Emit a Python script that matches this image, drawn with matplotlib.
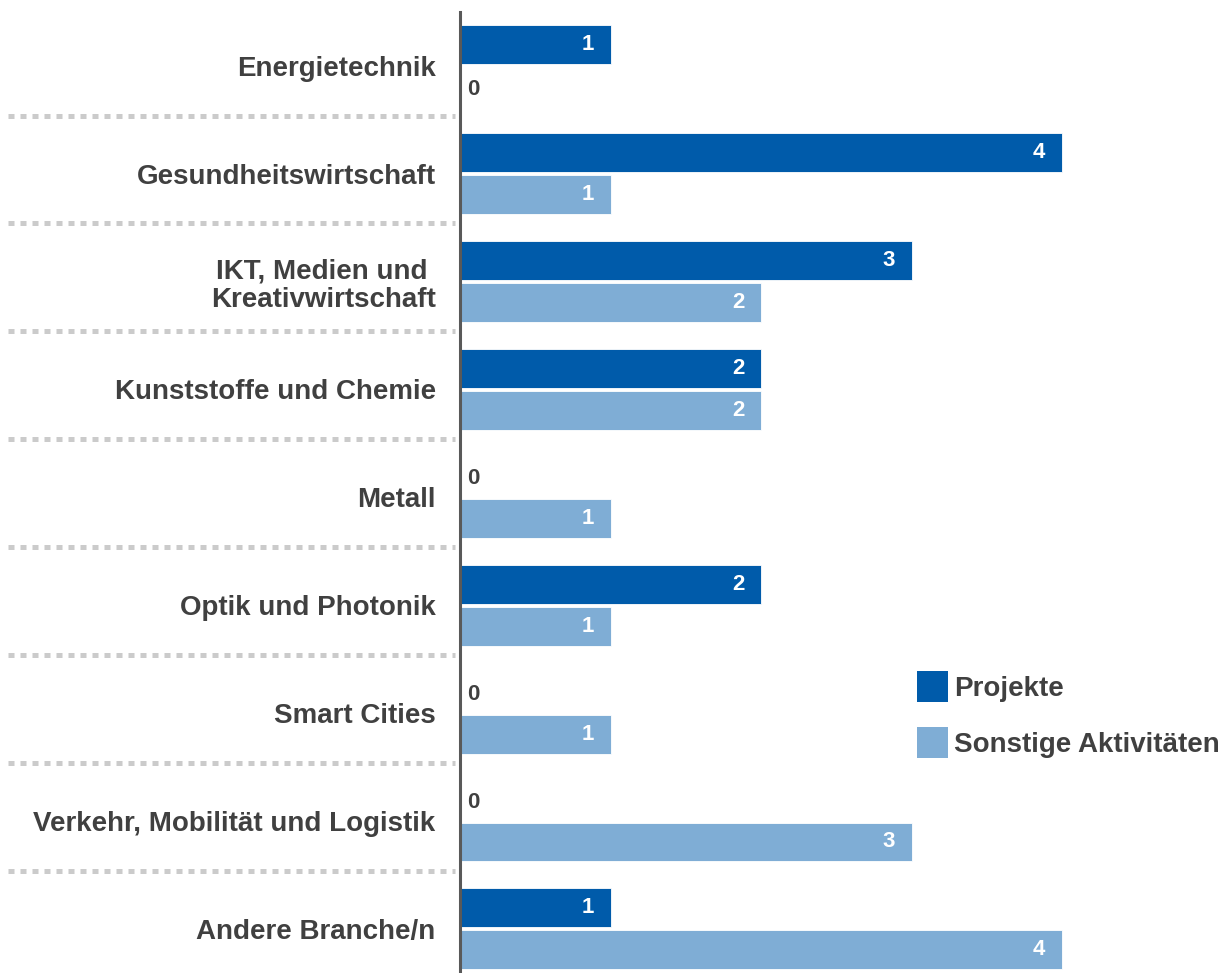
import matplotlib.pyplot as plt
from matplotlib.patches import Patch

plt.rcParams['font.family'] = ['Liberation Sans', 'DejaVu Sans']
plt.rcParams['font.weight'] = 'bold'

categories = ["Energietechnik", "Gesundheitswirtschaft", "IKT, Medien und \nKreativwirtschaft",
              "Kunststoffe und Chemie", "Metall", "Optik und Photonik", "Smart Cities",
              "Verkehr, Mobilität und Logistik", "Andere Branche/n"]
projekte = [1, 4, 3, 2, 0, 2, 0, 0, 1]
sonstige = [0, 1, 2, 2, 1, 1, 1, 3, 4]

dark = "#005baa"
light = "#7fadd5"
grey_text = "#404040"

fig = plt.figure(figsize=(12.3, 9.73), dpi=100)
ax = fig.add_axes([460 / 1230, 0, 770 / 1230, 961 / 973])

off = 0.195
h = 0.36
pos = list(range(len(categories)))

def draw(values, shift, color):
    ys = [p + shift for p in pos]
    ax.barh(ys, values, height=h, color=color, edgecolor="white", linewidth=0.6)
    for y, v in zip(ys, values):
        if v > 0:
            ax.text(v - 0.11, y, str(v), ha="right", va="center",
                    color="white", fontsize=16, fontweight="bold")
        else:
            ax.text(0.05, y + 0.02, str(v), ha="left", va="center",
                    color=grey_text, fontsize=16, fontweight="bold")

draw(projekte, -off, dark)
draw(sonstige, off, light)

ax.set_xlim(0, 770 / 150.5)
ax.set_ylim(8.41, -0.50)
for s in ["top", "right", "bottom"]:
    ax.spines[s].set_visible(False)
ax.spines["left"].set_color("#595959")
ax.spines["left"].set_linewidth(2.2)
ax.set_xticks([])
ax.set_yticks(pos)
ax.set_yticklabels(categories, fontsize=20, color=grey_text, fontweight="bold",
                   linespacing=1.12)
ax.tick_params(axis="y", length=0, pad=17.5)

# dotted separators between the groups, left of the axis
for p in pos[:-1]:
    ax.plot([-452 / 150.5, -5 / 150.5], [p + 0.46, p + 0.46], transform=ax.transData,
            clip_on=False, color="#cbcbcb", linewidth=3.6, dashes=(1.2, 1.2),
            solid_capstyle="butt", dash_capstyle="butt")

handles = [Patch(facecolor=dark, label="Projekte"),
           Patch(facecolor=light, label="Sonstige Aktivitäten")]
leg = fig.legend(handles=handles, loc="upper left", bbox_to_anchor=(917 / 1230, 1 - 671 / 973),
                 frameon=False, fontsize=20, handlelength=1.12, handleheight=1.34,
                 handletextpad=0.22, labelspacing=0.9, borderaxespad=0, borderpad=0)
for t in leg.get_texts():
    t.set_color(grey_text)

fig.savefig("out.png", dpi=100)
